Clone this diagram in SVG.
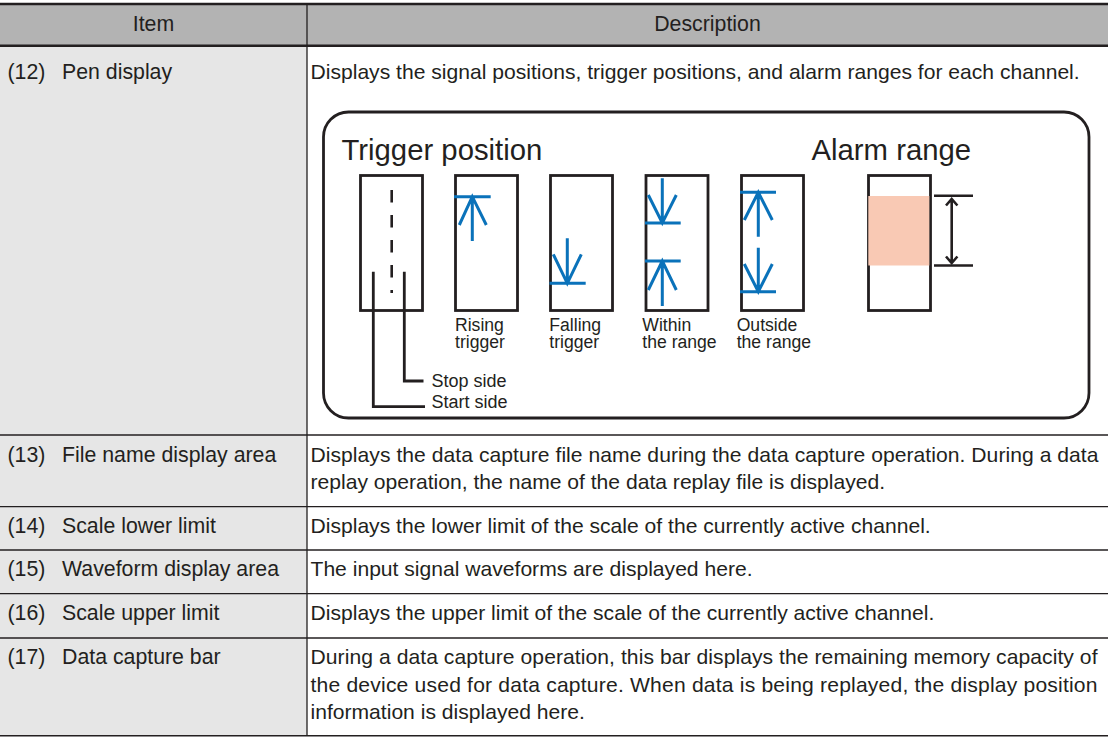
<svg xmlns="http://www.w3.org/2000/svg" width="1108" height="737" viewBox="0 0 1108 737">
<style>
.t{font-family:"Liberation Sans",Arial,sans-serif;font-size:21.3px;fill:#231f20}
.d{font-family:"Liberation Sans",Arial,sans-serif;font-size:21.1px;fill:#231f20}
.c{text-anchor:middle}
.s{font-family:"Liberation Sans",Arial,sans-serif;font-size:18px;fill:#231f20}
.lb{font-family:"Liberation Sans",Arial,sans-serif;font-size:17.6px;fill:#231f20}
.big{font-family:"Liberation Sans",Arial,sans-serif;font-size:29.3px;fill:#231f20}
.rl{stroke:#231f20;stroke-width:1.3;fill:none}
.thick{stroke:#231f20;stroke-width:2.6;fill:none}
.k{fill:none;stroke:#231f20;stroke-width:2.8}
.box{fill:#ffffff;stroke:#231f20;stroke-width:2.8}
.b{fill:none;stroke:#0a72ba;stroke-width:3}
</style>

<g id="table-background">
<rect x="0" y="4" width="1108" height="41.7" fill="#b3b3b3"/>
<rect x="0" y="45.7" width="307" height="690" fill="#e6e6e6"/>
<rect x="307" y="45.7" width="801" height="690" fill="#ffffff"/>
</g>

<g id="table-lines">
<line class="thick" x1="0" y1="4" x2="1108" y2="4"/>
<line class="thick" x1="0" y1="45.7" x2="1108" y2="45.7"/>
<line class="rl" x1="0" y1="435" x2="1108" y2="435"/>
<line class="rl" x1="0" y1="506.7" x2="1108" y2="506.7"/>
<line class="rl" x1="0" y1="550" x2="1108" y2="550"/>
<line class="rl" x1="0" y1="593.7" x2="1108" y2="593.7"/>
<line class="rl" x1="0" y1="638" x2="1108" y2="638"/>
<line class="rl" x1="0" y1="735.8" x2="1108" y2="735.8" style="stroke-width:1.6"/>
<line class="rl" x1="307" y1="4" x2="307" y2="736"/>
</g>

<g id="header">
<text class="t c" x="153.5" y="31">Item</text>
<text class="t c" x="707.5" y="31">Description</text>
</g>

<g id="row-12">
<text class="t" x="7.5" y="79">(12)</text>
<text class="t" x="62" y="79">Pen display</text>
<text class="d" x="310.5" y="79">Displays the signal positions, trigger positions, and alarm ranges for each channel.</text>
</g>

<g id="pen-display-diagram">
<rect class="k" x="323.5" y="112" width="765.5" height="306" rx="25" ry="25"/>
<text class="big" x="341.5" y="160">Trigger position</text>
<text class="big" x="811.5" y="160">Alarm range</text>

<g id="box-start-stop">
<rect class="box" x="360.5" y="175.5" width="62" height="135"/>
<line x1="391.7" y1="190" x2="391.7" y2="293" stroke="#231f20" stroke-width="2.6" stroke-dasharray="12.5 12.5"/>
</g>

<g id="box-rising">
<rect class="box" x="455.5" y="175.5" width="62" height="135"/>
<path class="b" d="M454 196.7 H490.7 M472.3 196.7 V241 M459.3 225 L472.3 196.7 L486.3 225"/>
<text class="lb" x="455" y="330.5">Rising<tspan x="455" dy="17.3">trigger</tspan></text>
</g>

<g id="box-falling">
<rect class="box" x="550.5" y="175.5" width="62" height="135"/>
<path class="b" d="M549.5 283.3 H585.7 M567.3 238.3 V283.3 M553.3 254.3 L567.3 283.3 L581.3 254.3"/>
<text class="lb" x="549.3" y="330.5">Falling<tspan x="549.3" dy="17.3">trigger</tspan></text>
</g>

<g id="box-within">
<rect class="box" x="646" y="175.5" width="62" height="135"/>
<path class="b" d="M662.3 178.3 V223 M645 223 H680.7 M648.3 195 L662.3 223 L676.3 195"/>
<path class="b" d="M645 261 H680.7 M662.3 261 V306 M648.3 290 L662.3 261 L676.3 290"/>
<text class="lb" x="642.3" y="330.5">Within<tspan x="642.3" dy="17.3">the range</tspan></text>
</g>

<g id="box-outside">
<rect class="box" x="741.5" y="175.5" width="62" height="135"/>
<path class="b" d="M740 192.3 H776 M758.3 192.3 V236.7 M744.3 220 L758.3 192.3 L772.3 220"/>
<path class="b" d="M758.3 247.7 V291.7 M740 291.7 H776 M744.3 264 L758.3 291.7 L772.3 264"/>
<text class="lb" x="736.7" y="330.5">Outside<tspan x="736.7" dy="17.3">the range</tspan></text>
</g>

<g id="box-alarm">
<rect class="box" x="868.5" y="175.5" width="62" height="135"/>
<rect x="868.3" y="196" width="61" height="69.5" fill="#f9c9b4"/>
<path d="M934 195.7 H973 M934 265.5 H973" fill="none" stroke="#231f20" stroke-width="2.6"/>
<path d="M951.7 199 V263 M946 205.5 L951.7 199 L957.4 205.5 M946 256.5 L951.7 263 L957.4 256.5" fill="none" stroke="#231f20" stroke-width="2.6"/>
</g>

<g id="label-stop-side">
<text class="s" x="431.5" y="387">Stop side</text>
</g>
<g id="label-start-side">
<text class="s" x="431.5" y="408">Start side</text>
</g>
</g>

<g id="connectors">
<path class="k" d="M404.3 271.7 V381 H423.5"/>
<path class="k" d="M373.3 271.7 V406.7 H425"/>
</g>

<g id="row-13">
<text class="t" x="7.5" y="462">(13)</text>
<text class="t" x="62" y="462">File name display area</text>
<text class="d" x="310.5" y="462" textLength="788" lengthAdjust="spacing">Displays the data capture file name during the data capture operation. During a data</text>
<text class="d" x="310.5" y="489">replay operation, the name of the data replay file is displayed.</text>
</g>

<g id="row-14">
<text class="t" x="7.5" y="533">(14)</text>
<text class="t" x="62" y="533">Scale lower limit</text>
<text class="d" x="310.5" y="533">Displays the lower limit of the scale of the currently active channel.</text>
</g>

<g id="row-15">
<text class="t" x="7.5" y="576">(15)</text>
<text class="t" x="62" y="576">Waveform display area</text>
<text class="d" x="310.5" y="576">The input signal waveforms are displayed here.</text>
</g>

<g id="row-16">
<text class="t" x="7.5" y="620">(16)</text>
<text class="t" x="62" y="620">Scale upper limit</text>
<text class="d" x="310.5" y="620">Displays the upper limit of the scale of the currently active channel.</text>
</g>

<g id="row-17">
<text class="t" x="7.5" y="664">(17)</text>
<text class="t" x="62" y="664">Data capture bar</text>
<text class="d" x="310.5" y="664" textLength="787" lengthAdjust="spacing">During a data capture operation, this bar displays the remaining memory capacity of</text>
<text class="d" x="310.5" y="691.5" textLength="787" lengthAdjust="spacing">the device used for data capture. When data is being replayed, the display position</text>
<text class="d" x="310.5" y="719">information is displayed here.</text>
</g>
</svg>
